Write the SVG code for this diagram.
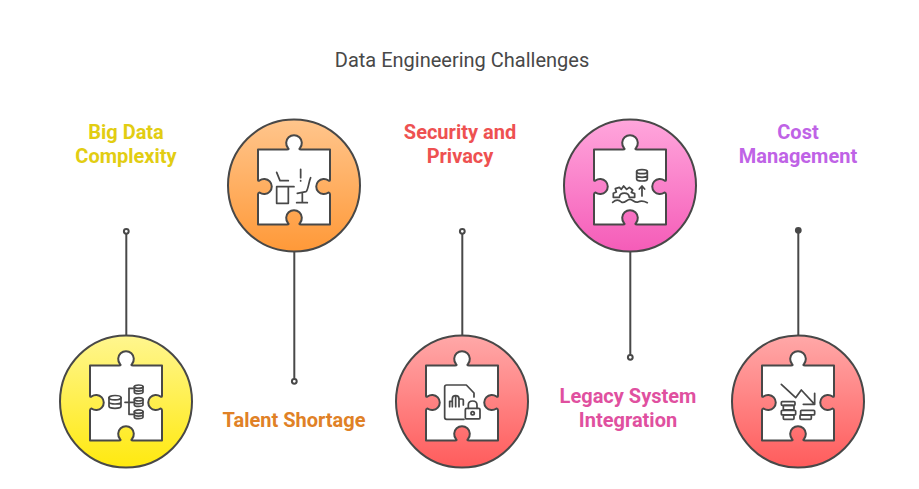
<svg xmlns="http://www.w3.org/2000/svg" width="919" height="489" viewBox="0 0 919 489">
<style>
text{font-family:Roboto,"Liberation Sans",sans-serif;font-size:20px;text-anchor:middle}
.lbl{font-weight:700}
.ttl{fill:#484848;font-weight:400}
.disc{stroke:#484848;stroke-width:2}
.piece{fill:#fff;stroke:#484848;stroke-width:2;stroke-linejoin:round}
.stem{stroke:#484848;stroke-width:2;fill:none}
.dot{fill:#fff;stroke:#484848;stroke-width:2}
.ic{fill:none;stroke:#484848;stroke-width:5.2;stroke-linecap:round;stroke-linejoin:round}
</style>
<defs>
<linearGradient id="gy" x1="0" y1="0" x2="0" y2="1"><stop offset="0" stop-color="#FFF68F"/><stop offset="1" stop-color="#FFE90F"/></linearGradient>
<linearGradient id="go" x1="0" y1="0" x2="0" y2="1"><stop offset="0" stop-color="#FFC58C"/><stop offset="1" stop-color="#FF9938"/></linearGradient>
<linearGradient id="gr" x1="0" y1="0" x2="0" y2="1"><stop offset="0" stop-color="#FFA8A8"/><stop offset="1" stop-color="#FF5C5C"/></linearGradient>
<linearGradient id="gp" x1="0" y1="0" x2="0" y2="1"><stop offset="0" stop-color="#FFA6DC"/><stop offset="1" stop-color="#F55CB8"/></linearGradient>
<path id="piece" class="piece" d="M-36,-36 H-7 C-5,-36 -5,-36.5 -6,-37.5 A7.8 7.8 0 1 1 6,-37.5 C5,-36.5 5,-36 7,-36 H36 V-6 C36,-4.5 35.5,-4.5 34.5,-5 A7.6 7.6 0 1 0 34.5,7 C35.5,7.5 36,7.5 36,9 V39 H7 C5,39 5,38.5 6,37.5 A7.8 7.8 0 1 0 -6,37.5 C-5,38.5 -5,39 -7,39 H-36 V9 C-36,7.5 -35.5,7.5 -34.5,7 A7.6 7.6 0 1 0 -34.5,-5 C-35.5,-4.5 -36,-4.5 -36,-6 Z"/>
<g id="dbs"><ellipse cx="0" cy="0" rx="13" ry="5"/><path d="M-13,0 V16 C-13,23 13,23 13,16 V0 M-13,8 C-13,15 13,15 13,8"/></g>
<g id="dbl"><ellipse cx="0" cy="0" rx="18" ry="6.5"/><path d="M-18,0 V26 C-18,34 18,34 18,26 V0 M-18,13 C-18,21 18,21 18,13"/></g>
</defs>
<rect width="919" height="489" fill="#fff"/>
<text class="ttl" x="462" y="66.5">Data Engineering Challenges</text>
<g id="connectors">
<path class="stem" d="M126.3,231 V335"/><circle class="dot" cx="126.3" cy="231.3" r="2.4"/>
<path class="stem" d="M294.3,252 V381"/><circle class="dot" cx="294.3" cy="381.3" r="2.4"/>
<path class="stem" d="M462.3,231 V335"/><circle class="dot" cx="462.3" cy="231.3" r="2.4"/>
<path class="stem" d="M630.3,252 V357"/><circle class="dot" cx="630.3" cy="357.3" r="2.4"/>
<path class="stem" d="M798.3,231 V335"/><circle class="dot" style="fill:#484848" cx="798.3" cy="230.3" r="2.4"/>
</g>
<g id="node-big-data">
<circle class="disc" cx="126" cy="401.5" r="66" fill="url(#gy)"/>
<use href="#piece" x="126" y="401.5"/>
<g class="ic" transform="translate(50,325) scale(.3333)">
<use href="#dbl" x="195" y="218"/>
<path d="M225,232 H250 M250,190 H237 V268 H250"/>
<use href="#dbs" x="266" y="185"/>
<use href="#dbs" x="266" y="223"/>
<use href="#dbs" x="266" y="260"/>
</g>
<text class="lbl" fill="#E2CD12" x="126" y="139">Big Data</text>
<text class="lbl" fill="#E2CD12" x="126" y="163">Complexity</text>
</g>
<g id="node-talent">
<circle class="disc" cx="294" cy="185.5" r="66" fill="url(#go)"/>
<use href="#piece" x="294" y="185.5"/>
<g class="ic" transform="translate(220,110) scale(.3333)">
<path d="M170,187 L180,212 H205 M170,230 H222 M170,230 V280 H205 V230"/>
<path d="M242,178 V203 M242,212 V213"/>
<path d="M272,203 C266,215 265,240 258,245 L232,250 M247,250 V278 M230,278 H262"/>
</g>
<text class="lbl" fill="#E08126" x="294" y="427">Talent Shortage</text>
</g>
<g id="node-security">
<circle class="disc" cx="462" cy="401.5" r="66" fill="url(#gr)"/>
<use href="#piece" x="462" y="401.5"/>
<g class="ic" transform="translate(388,325) scale(.3333)">
<path d="M258,216 V204 L235,180 H176 Q170,180 170,186 V277 Q170,283 176,283 H228"/>
<path d="M185,245 V229 H193 V245 M193,229 V222 Q193,212 203,212 Q213,212 213,222 V245 M203,245 V212 M213,222 H222 Q226,222 226,226 V240"/>
<rect x="232" y="250" width="44" height="32" rx="4"/>
<path d="M241,250 V240 C241,224 267,224 267,240 V250"/>
<circle cx="254" cy="265" r="5"/>
</g>
<text class="lbl" fill="#EE5151" x="460" y="139">Security and</text>
<text class="lbl" fill="#EE5151" x="460" y="163">Privacy</text>
</g>
<g id="node-legacy">
<circle class="disc" cx="630" cy="185.5" r="66" fill="url(#gp)"/>
<use href="#piece" x="630" y="185.5"/>
<g class="ic" transform="translate(556,110) scale(.3333)">
<ellipse cx="258" cy="185" rx="16" ry="6"/><path d="M242,185 V207 C242,215 274,215 274,207 V185 M242,196 C242,204 274,204 274,196"/>
<path d="M258,258 V228 M250,237 L258,228 L266,237"/>
<path d="M188,262 H172 L172,250 L181,246 L178,236 L190,232 L196,238 L203,228 L212,238 L220,232 L230,240 L226,247 L236,251 V262 H220 C218,245 192,245 190,262"/>
<path d="M170,277 C180,268 188,268 196,276 C206,282 212,268 222,268 C230,268 236,280 246,276 C254,272 262,272 274,278"/>
</g>
<text class="lbl" fill="#E0509F" x="628" y="403">Legacy System</text>
<text class="lbl" fill="#E0509F" x="628" y="427">Integration</text>
</g>
<g id="node-cost">
<circle class="disc" cx="798" cy="401.5" r="66" fill="url(#gr)"/>
<use href="#piece" x="798" y="401.5"/>
<g class="ic" transform="translate(724,325) scale(.3333)">
<path d="M172,178 L215,218 L232,195 L272,238 M272,205 V238 H238"/>
<rect x="172" y="230" width="41" height="11" rx="3"/>
<rect x="178" y="241" width="32" height="14" rx="3"/>
<rect x="172" y="256" width="43" height="14" rx="3"/>
<rect x="178" y="270" width="32" height="13" rx="3"/>
<rect x="230" y="256" width="42" height="14" rx="3"/>
<rect x="228" y="270" width="34" height="13" rx="3"/>
</g>
<text class="lbl" fill="#BF63E6" x="798" y="139">Cost</text>
<text class="lbl" fill="#BF63E6" x="798" y="163">Management</text>
</g>
</svg>
